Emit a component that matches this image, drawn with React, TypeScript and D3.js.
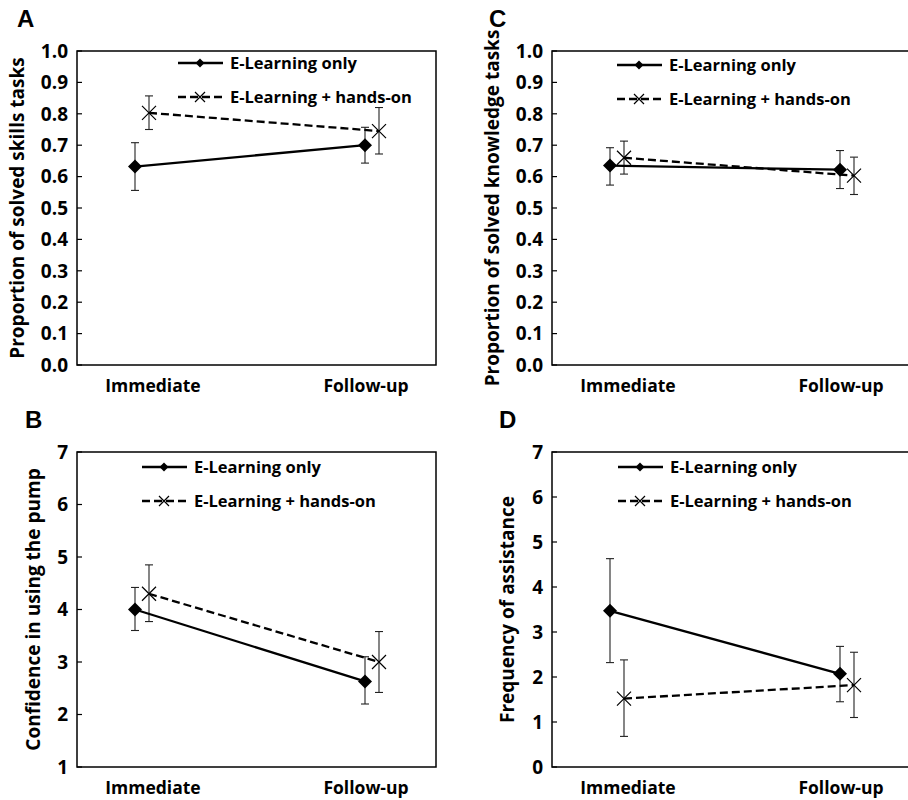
import React from 'react';
import * as d3 from 'd3';

const categories = ['Immediate', 'Follow-up'];
const seriesNames = ['E-Learning only', 'E-Learning + hands-on'];

// panel A: skills
const skillsOnly = [0.632, 0.700];
const skillsOnlyLo = [0.556, 0.643];
const skillsOnlyHi = [0.708, 0.757];
const skillsHands = [0.803, 0.745];
const skillsHandsLo = [0.750, 0.672];
const skillsHandsHi = [0.857, 0.820];

// panel C: knowledge
const knowOnly = [0.635, 0.622];
const knowOnlyLo = [0.573, 0.562];
const knowOnlyHi = [0.692, 0.683];
const knowHands = [0.660, 0.603];
const knowHandsLo = [0.608, 0.543];
const knowHandsHi = [0.713, 0.662];

// panel B: confidence
const confOnly = [4.0, 2.63];
const confOnlyLo = [3.6, 2.2];
const confOnlyHi = [4.42, 3.1];
const confHands = [4.3, 3.0];
const confHandsLo = [3.77, 2.42];
const confHandsHi = [4.85, 3.58];

// panel D: assistance
const assistOnly = [3.47, 2.07];
const assistOnlyLo = [2.32, 1.45];
const assistOnlyHi = [4.63, 2.68];
const assistHands = [1.52, 1.82];
const assistHandsLo = [0.68, 1.1];
const assistHandsHi = [2.38, 2.55];

const proportionTicks = d3.range(0, 11).map((i) => i / 10);
const confTicks = [1, 2, 3, 4, 5, 6, 7];
const assistTicks = [0, 1, 2, 3, 4, 5, 6, 7];

const panels = [
  {
    letter: 'A', title: 'Proportion of solved skills tasks', left: 77, top: 51, bottom: 365,
    domain: [0, 1], ticks: proportionTicks, fmt: d3.format('.1f'), legendX: 101, legendY: 12, titleX: 17, letterX: -60,
    only: [skillsOnly, skillsOnlyLo, skillsOnlyHi], hands: [skillsHands, skillsHandsLo, skillsHandsHi],
  },
  {
    letter: 'C', title: 'Proportion of solved knowledge tasks', left: 552, top: 51, bottom: 365,
    domain: [0, 1], ticks: proportionTicks, fmt: d3.format('.1f'), legendX: 65, legendY: 14, titleX: 492, letterX: -63,
    only: [knowOnly, knowOnlyLo, knowOnlyHi], hands: [knowHands, knowHandsLo, knowHandsHi],
  },
  {
    letter: 'B', title: 'Confidence in using the pump', left: 77, top: 452, bottom: 767,
    domain: [1, 7], ticks: confTicks, fmt: d3.format('d'), legendX: 65, legendY: 15, titleX: 33, letterX: -52,
    only: [confOnly, confOnlyLo, confOnlyHi], hands: [confHands, confHandsLo, confHandsHi],
  },
  {
    letter: 'D', title: 'Frequency of assistance', left: 552, top: 452, bottom: 767,
    domain: [0, 7], ticks: assistTicks, fmt: d3.format('d'), legendX: 66, legendY: 15, titleX: 507, letterX: -53,
    only: [assistOnly, assistOnlyLo, assistOnlyHi], hands: [assistHands, assistHandsLo, assistHandsHi],
  },
];

const W = 359;
const font = '"Open Sans", Lato, sans-serif';

const Diamond = ({ x, y, r }: { x: number; y: number; r: number }) => (
  <path d={`M${x},${y - r}L${x + r},${y}L${x},${y + r}L${x - r},${y}Z`} fill="#000" />
);
const Cross = ({ x, y, r }: { x: number; y: number; r: number }) => (
  <path d={`M${x - r},${y - r}L${x + r},${y + r}M${x - r},${y + r}L${x + r},${y - r}`} stroke="#000" strokeWidth={1.2} fill="none" />
);

const Panel = ({ p }: { p: (typeof panels)[number] }) => {
  const right = p.left + W;
  const x = d3.scalePoint<string>().domain(categories).range([p.left + 65, right - 64]);
  const y = d3.scaleLinear().domain(p.domain).range([p.bottom, p.top]);
  const off = 7;
  const line = d3.line<[number, number]>();
  const pts = (vals: number[], dx: number) => vals.map((v, i) => [x(categories[i])! + dx, y(v)] as [number, number]);
  const onlyPts = pts(p.only[0], -off);
  const handsPts = pts(p.hands[0], off);

  const errBars = (ser: number[][], dx: number) =>
    categories.map((c, i) => {
      const cx = x(c)! + dx;
      const lo = y(ser[1][i]);
      const hi = y(ser[2][i]);
      return (
        <g key={c} stroke="#222" strokeWidth={1.1}>
          <line x1={cx} x2={cx} y1={lo} y2={hi} />
          <line x1={cx - 4} x2={cx + 4} y1={lo} y2={lo} />
          <line x1={cx - 4} x2={cx + 4} y1={hi} y2={hi} />
        </g>
      );
    });

  const lx = p.left + p.legendX;
  const ly1 = p.top + p.legendY;
  const ly2 = ly1 + 34;

  return (
    <g>
      <text x={p.left + p.letterX} y={p.top - 24} fontFamily="Arial, 'Liberation Sans', sans-serif" fontWeight="bold" fontSize={24}>
        {p.letter}
      </text>
      <rect x={p.left} y={p.top} width={W} height={p.bottom - p.top} fill="none" stroke="#000" strokeWidth={1.5} />
      {p.ticks.map((t) => (
        <g key={t}>
          <line x1={p.left} x2={p.left + 5} y1={y(t)} y2={y(t)} stroke="#000" strokeWidth={1.2} />
          <text x={p.left - 9} y={y(t)} dy="0.36em" textAnchor="end" fontFamily={font} fontWeight="bold" fontSize={19}>
            {p.fmt(t)}
          </text>
        </g>
      ))}
      <text
        transform={`translate(${p.titleX},${(p.top + p.bottom) / 2}) rotate(-90)`}
        textAnchor="middle"
        dy="0.36em"
        fontFamily={font}
        fontWeight="bold"
        fontSize={19}
      >
        {p.title}
      </text>
      {categories.map((c, i) => (
        <text key={c} x={x(c)! + (i === 0 ? 11 : -6)} y={p.bottom + 27} textAnchor="middle" fontFamily={font} fontWeight="bold" fontSize={17.5}>
          {c}
        </text>
      ))}
      {errBars(p.only, -off)}
      {errBars(p.hands, off)}
      <path d={line(onlyPts)!} stroke="#000" strokeWidth={2.3} fill="none" />
      <path d={line(handsPts)!} stroke="#000" strokeWidth={2.3} strokeDasharray="8,4" fill="none" />
      {onlyPts.map(([px, py], i) => (
        <Diamond key={i} x={px} y={py} r={7} />
      ))}
      {handsPts.map(([px, py], i) => (
        <Cross key={i} x={px} y={py} r={7} />
      ))}
      <line x1={lx} x2={lx + 45} y1={ly1} y2={ly1} stroke="#000" strokeWidth={2.3} />
      <Diamond x={lx + 22} y={ly1} r={4.5} />
      <text x={lx + 52} y={ly1} dy="0.36em" fontFamily={font} fontWeight="bold" fontSize={16.5}>
        {seriesNames[0]}
      </text>
      <line x1={lx} x2={lx + 45} y1={ly2} y2={ly2} stroke="#000" strokeWidth={2.3} strokeDasharray="8,4" />
      <Cross x={lx + 22} y={ly2} r={5} />
      <text x={lx + 52} y={ly2} dy="0.36em" fontFamily={font} fontWeight="bold" fontSize={16.5}>
        {seriesNames[1]}
      </text>
    </g>
  );
};

export default function App() {
  return (
    <svg width={908} height={800} style={{ position: 'absolute', left: 0, top: 0, background: '#fff' }}>
      {panels.map((p) => (
        <Panel key={p.letter} p={p} />
      ))}
    </svg>
  );
}
